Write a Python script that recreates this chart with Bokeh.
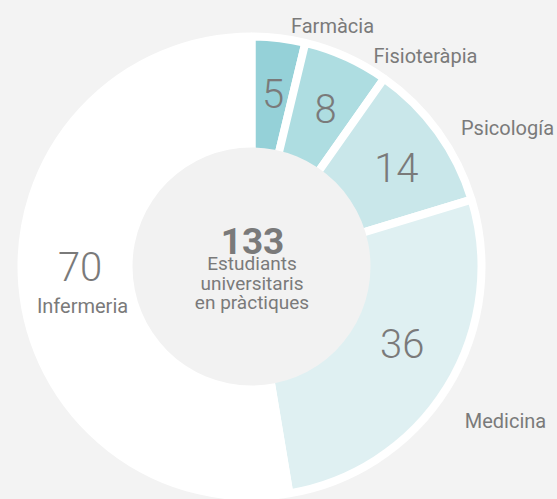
import math
from bokeh.plotting import figure
from bokeh.models import Range1d, ColumnDataSource
from bokeh.core.properties import value
from bokeh.embed import file_html
from bokeh.resources import INLINE

# ---- data ----
categories = ["Farmàcia", "Fisioteràpia", "Psicología", "Medicina", "Infermeria"]
counts = [5, 8, 14, 36, 70]
total_label = "133"
center_lines = ["Estudiants", "universitaris", "en pràctiques"]

# ---- styles / layout ----
colors = ["#95d1d8", "#aedde1", "#c9e7ea", "#dff0f2", "#ffffff"]
BG = "#f3f3f3"
TXT = "#7a7a7a"
FONT = "Roboto"
NUM_FONT = "Roboto Light"
W, H = 557, 499
CX, CY = 251, 266          # donut centre in pixels from top-left
R_IN, R_OUT = 112, 230
R_HOLE = 119
NUM_R = 175
# small pixel nudges for the value labels (screen dx, dy)
num_nudge = [(1, 1), (2, 1), (3, 4), (2, -15), (3, -14)]
# outer name labels: (centre x, baseline y) in screen pixels
name_pos = [(332, 25), (425, 55), (507, 127), (505, 420), (82, 305)]

total = sum(counts)

def to_data(x, y):
    return x - CX, CY - y

p = figure(width=W, height=H, output_backend="svg", toolbar_location=None,
           x_range=Range1d(-CX, W - CX), y_range=Range1d(CY - H, CY),
           min_border=0, background_fill_color=BG, border_fill_color=BG)
p.axis.visible = False
p.grid.visible = False
p.outline_line_color = None

starts, ends, mids = [], [], []
cum = 0
for c in counts:
    a0 = math.pi / 2 - 2 * math.pi * cum / total
    cum += c
    a1 = math.pi / 2 - 2 * math.pi * cum / total
    starts.append(a0)
    ends.append(a1)
    mids.append((a0 + a1) / 2)

src = ColumnDataSource(dict(start=starts, end=ends, color=colors))
p.annular_wedge(x=0, y=0, inner_radius=R_IN, outer_radius=R_OUT,
                start_angle="start", end_angle="end", direction="clock",
                fill_color="color", line_color="white", line_width=8, source=src)

p.circle(x=0, y=0, radius=R_HOLE, fill_color="#f2f2f2", line_color=None)

# value labels
nx, ny, nt = [], [], []
for c, m, (ddx, ddy) in zip(counts, mids, num_nudge):
    nx.append(NUM_R * math.cos(m) + ddx)
    ny.append(NUM_R * math.sin(m) - ddy)
    nt.append(str(c))
p.text(x=nx, y=ny, text=nt, text_align="center", text_baseline="middle",
       text_font=value(NUM_FONT), text_font_size="40px", text_color=TXT)

# name labels
lx, ly = [], []
for (sx, sy) in name_pos:
    dx, dy = to_data(sx, sy)
    lx.append(dx)
    ly.append(dy)
p.text(x=lx, y=ly, text=categories, text_align="center", text_baseline="alphabetic",
       text_font=value(FONT), text_font_size="20px", text_color=TXT)

# centre text
bx, by = to_data(252, 240)
p.text(x=[bx], y=[by], text=[total_label], text_align="center", text_baseline="alphabetic",
       text_font=value(FONT), text_font_size="37px", text_font_style="bold", text_color=TXT)
cy_lines = [263, 283, 302]
p.text(x=[to_data(251.5, y)[0] for y in cy_lines], y=[to_data(251.5, y)[1] for y in cy_lines],
       text=center_lines, text_align="center", text_baseline="alphabetic",
       text_font=value(FONT), text_font_size="19px", text_color=TXT)

html = file_html(p, INLINE)
html = html.replace("<body>", '<body style="margin:0;background-color:%s;">' % BG)
open("out.html", "w").write(html)
